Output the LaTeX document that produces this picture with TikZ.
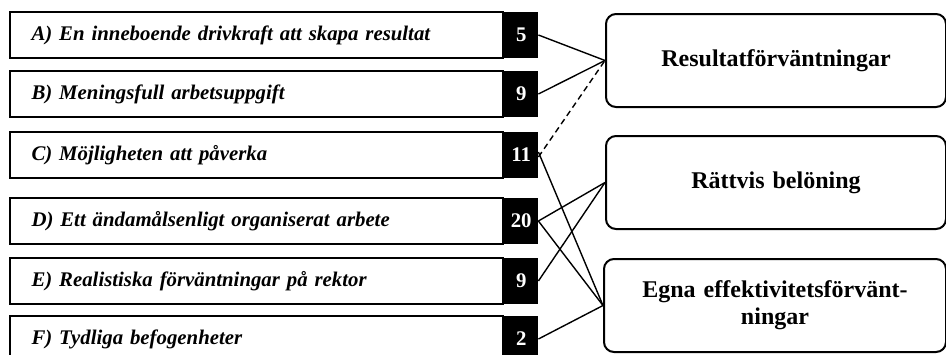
\documentclass[tikz,border=0pt]{standalone}
\usepackage{fontspec}
\setmainfont{Liberation Serif}
\usetikzlibrary{positioning}

\begin{document}
\begin{tikzpicture}[x=1pt,y=-1pt,
  item/.style={draw,line width=2pt,anchor=north west,minimum width=493pt,
    minimum height=46pt,inner xsep=20pt,text width=450pt,align=left,
    font=\fontsize{20.8}{24}\selectfont\bfseries\itshape},
  score/.style={fill=black,text=white,anchor=west,minimum width=34pt,
    inner sep=0pt,font=\fontsize{20.8}{24}\selectfont\bfseries},
  factor/.style={draw,line width=2pt,rounded corners=10pt,anchor=north west,
    minimum height=93pt,text width=320pt,align=center,
    font=\fontsize{24}{27}\selectfont\bfseries},
  link/.style={line width=1.4pt}]
 \useasboundingbox (0,0) rectangle (946,354);

 % the six items and their counts
 \node[item] (a) at (9,11) {A) En inneboende drivkraft att skapa resultat};
 \node[item] (b) at (9,70) {B) Meningsfull arbetsuppgift};
 \node[item] (c) at (9,131) {C) Möjligheten att påverka};
 \node[item] (d) at (9,197) {D) Ett ändamålsenligt organiserat arbete};
 \node[item] (e) at (9,257) {E) Realistiska förväntningar på rektor};
 \node[item] (f) at (9,315) {F) Tydliga befogenheter};
 \foreach \n/\v in {a/5,b/9,c/11,d/20,e/9,f/2}{
   \node[score,minimum height=46pt] (n\n) at (\n.east) {\v};
 }

 % the three factors
 \node[factor,minimum width=340pt] (res) at (605,13) {Resultatförväntningar};
 \node[factor,minimum width=340pt] (bel) at (605,135) {Rättvis belöning};
 \node[factor,minimum width=342pt] (egn) at (603,258) {Egna effektivitetsförvänt-\\ningar};

 \draw[link] (na.east) -- (res.west);
 \draw[link] (nb.east) -- (res.west);
 \draw[link,dash pattern=on 6pt off 4pt] ([yshift=-2pt]nc.east) -- (res.west);
 \draw[link] ([yshift=3pt]nc.east) -- (egn.west);
 \draw[link] (nd.east) -- (bel.west);
 \draw[link] (nd.east) -- (egn.west);
 \draw[link] (ne.east) -- (bel.west);
 \draw[link] (nf.east) -- (egn.west);
\end{tikzpicture}
\end{document}
